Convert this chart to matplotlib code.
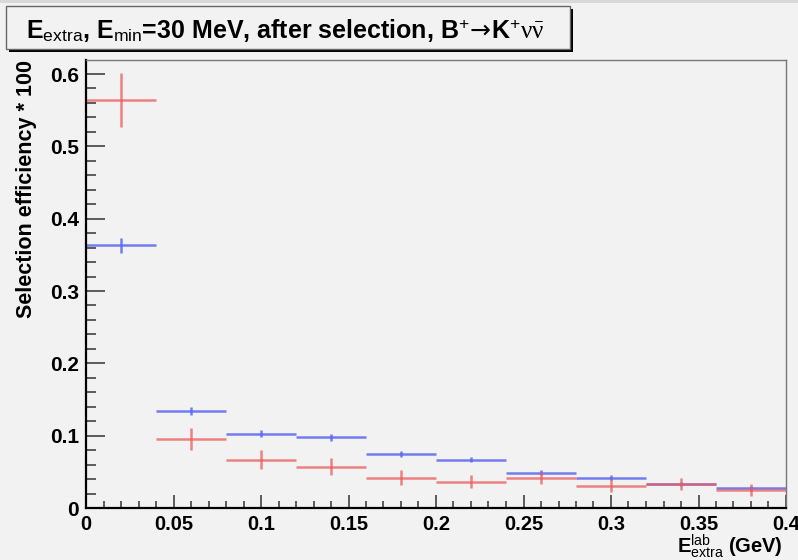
import numpy as np
import matplotlib
matplotlib.use('Agg')
import matplotlib.pyplot as plt
from matplotlib.patches import Rectangle
from matplotlib.ticker import MultipleLocator, FuncFormatter

# Histogram data
bin_edges = [0.0, 0.04, 0.08, 0.12, 0.16, 0.20, 0.24, 0.28, 0.32, 0.36, 0.40]
blue_eff = [0.363, 0.134, 0.103, 0.098, 0.075, 0.067, 0.049, 0.042, 0.033, 0.027]
blue_err = [0.010, 0.006, 0.005, 0.005, 0.004, 0.004, 0.004, 0.003, 0.003, 0.003]
red_eff = [0.564, 0.095, 0.067, 0.057, 0.042, 0.036, 0.042, 0.031, 0.033, 0.025]
red_err = [0.037, 0.015, 0.013, 0.012, 0.010, 0.009, 0.009, 0.009, 0.008, 0.008]

W, H = 798, 560
BG = '#f2f2f2'

plt.rcParams['font.family'] = ['Liberation Sans', 'DejaVu Sans']
plt.rcParams['font.weight'] = 'bold'
plt.rcParams['mathtext.fontset'] = 'custom'
plt.rcParams['mathtext.rm'] = 'Liberation Serif:weight=normal'
plt.rcParams['mathtext.it'] = 'Liberation Serif:italic:weight=normal'
plt.rcParams['mathtext.sf'] = 'Liberation Sans:weight=normal'
plt.rcParams['mathtext.bf'] = 'Liberation Sans:bold'
plt.rcParams['mathtext.cal'] = 'DejaVu Sans:weight=normal'  # used for the arrow

fig = plt.figure(figsize=(W / 100, H / 100), dpi=100, facecolor=BG)
ax = fig.add_axes([86 / W, 1 - 508 / H, 700 / W, 448 / H], facecolor=BG)

edges = np.array(bin_edges)
centers = (edges[:-1] + edges[1:]) / 2
half = (edges[1:] - edges[:-1]) / 2

ax.errorbar(centers, blue_eff, xerr=half, yerr=blue_err, fmt='none',
            ecolor='#5a68f0', elinewidth=1.8, capsize=0, alpha=0.85)
ax.errorbar(centers, red_eff, xerr=half, yerr=red_err, fmt='none',
            ecolor='#ec5c5c', elinewidth=1.8, capsize=0, alpha=0.75)

ax.set_xlim(0, 0.4)
ax.set_ylim(0, 0.6194)

ax.xaxis.set_major_locator(MultipleLocator(0.05))
ax.xaxis.set_minor_locator(MultipleLocator(0.01))
ax.yaxis.set_major_locator(MultipleLocator(0.1))
ax.yaxis.set_minor_locator(MultipleLocator(0.02))
fmt = FuncFormatter(lambda v, p: '%g' % round(v, 3))
ax.xaxis.set_major_formatter(fmt)
ax.yaxis.set_major_formatter(fmt)

ax.tick_params(axis='both', which='both', direction='in', top=False, right=False,
               width=1.1, color='#333333')
ax.tick_params(axis='y', which='major', length=14, pad=5, labelsize=15)
ax.tick_params(axis='y', which='minor', length=7)
ax.tick_params(axis='x', which='major', length=9.5, pad=5, labelsize=14.5)
ax.tick_params(axis='x', which='minor', length=4.7)
for lab in ax.get_xticklabels() + ax.get_yticklabels():
    lab.set_fontweight('bold')

ax.spines['left'].set_linewidth(1.6)
ax.spines['bottom'].set_linewidth(1.6)
ax.spines['top'].set_color('#777777')
ax.spines['right'].set_color('#777777')
ax.spines['top'].set_linewidth(1.0)
ax.spines['right'].set_linewidth(1.0)

# axis titles
fig.text(27 / W, 1 - 60 / H, 'Selection efficiency * 100', rotation=90,
         ha='center', va='top', fontsize=15.5, fontweight='bold')
fig.text(783 / W, 1 - 553 / H,
         r'$\mathbf{E}^{\mathsf{lab}}_{\mathsf{extra}}$ (GeV)',
         ha='right', va='baseline', fontsize=14.5, fontweight='bold')

# title box with shadow
fig.patches.append(Rectangle((9 / W, 1 - 52 / H), 564 / W, 43 / H,
                             transform=fig.transFigure, facecolor='black',
                             edgecolor='none', zorder=1))
fig.patches.append(Rectangle((6 / W, 1 - 49 / H), 564 / W, 43 / H,
                             transform=fig.transFigure, facecolor=BG,
                             edgecolor='#666666', linewidth=1.0, zorder=2))
fig.text(26 / W, 1 - 38 / H,
         r'$\mathbf{E}_{\mathsf{extra}}$, $\mathbf{E}_{\mathsf{min}}$=30 MeV, after selection, '
         r'B$^{\mathsf{+}}\!\mathcal{\rightarrow}\!$K$^{\mathsf{+}}\mathrm{\nu\bar{\nu}}$',
         ha='left', va='baseline', fontsize=18, fontweight='bold', zorder=3)

# thin grey band at the very top of the window
fig.patches.append(Rectangle((0, 1 - 3 / H), 1, 3 / H, transform=fig.transFigure,
                             facecolor='#d8d8d8', edgecolor='none', zorder=0))

fig.savefig('out.png', dpi=100, facecolor=BG)
